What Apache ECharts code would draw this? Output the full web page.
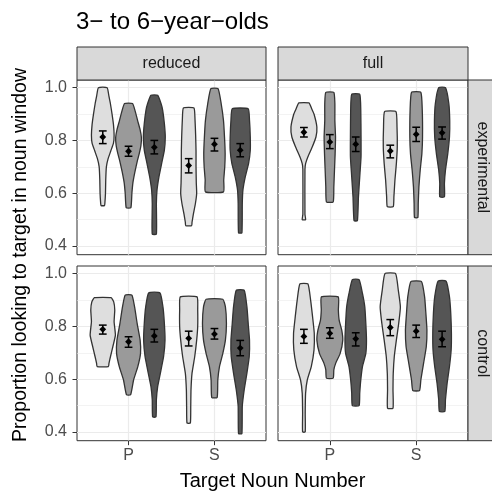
<!DOCTYPE html>
<html>
<head>
<meta charset="utf-8">
<script src="https://cdn.jsdelivr.net/npm/echarts@6/dist/echarts.min.js"></script>
<style>html,body{margin:0;padding:0;background:#fff}#c{width:492px;height:493px}</style>
</head>
<body>
<div id="c"></div>
<script>
// ---------- data ----------
const titleText = '3\u2212 to 6\u2212year\u2212olds';
const yTitle = 'Proportion looking to target in noun window';
const xTitle = 'Target Noun Number';
const columns = ['reduced', 'full'];
const rows = ['experimental', 'control'];
const nounNumbers = ['P', 'S'];
const yTicks = [0.4, 0.6, 0.8, 1.0];
const yMinorTicks = [0.5, 0.7, 0.9];
const fills = ['#dedede', '#9a9a9a', '#555555'];

// violin profiles: [value, relative half-width] from top to bottom; order P1,P2,P3,S1,S2,S3
const violinsReducedExperimental = [
  [[1.000,0.34],[0.97,0.47],[0.94,0.59],[0.90,0.72],[0.86,0.83],[0.82,0.88],[0.79,0.83],[0.76,0.62],[0.73,0.41],[0.70,0.28],[0.65,0.23],[0.60,0.21],[0.56,0.16],[0.553,0.13]],
  [[0.94,0.31],[0.91,0.52],[0.876,0.70],[0.84,0.90],[0.81,1.0],[0.78,0.96],[0.75,0.83],[0.72,0.67],[0.68,0.49],[0.64,0.34],[0.60,0.26],[0.545,0.18]],
  [[0.971,0.26],[0.94,0.52],[0.914,0.65],[0.864,0.78],[0.813,0.85],[0.763,0.78],[0.713,0.57],[0.662,0.36],[0.612,0.21],[0.561,0.16],[0.445,0.16]],
  [[0.923,0.41],[0.88,0.49],[0.82,0.54],[0.76,0.57],[0.70,0.57],[0.64,0.59],[0.60,0.62],[0.56,0.52],[0.52,0.36],[0.49,0.26],[0.477,0.23]],
  [[0.996,0.28],[0.94,0.52],[0.876,0.70],[0.813,0.78],[0.75,0.83],[0.70,0.80],[0.65,0.72],[0.605,0.70]],
  [[0.92,0.62],[0.876,0.72],[0.813,0.78],[0.763,0.78],[0.713,0.65],[0.662,0.39],[0.612,0.21],[0.561,0.16],[0.45,0.13]]
];
const violinsFullExperimental = [
  [[0.942,0.39],[0.92,0.6],[0.90,0.78],[0.851,1.0],[0.813,0.93],[0.776,0.65],[0.738,0.31],[0.712,0.13],[0.69,0.08],[0.52,0.08],[0.50,0.13]],
  [[0.982,0.31],[0.94,0.39],[0.876,0.39],[0.813,0.44],[0.75,0.41],[0.687,0.36],[0.624,0.31],[0.567,0.26]],
  [[0.975,0.31],[0.914,0.39],[0.813,0.41],[0.738,0.41],[0.662,0.31],[0.586,0.21],[0.496,0.13]],
  [[0.909,0.44],[0.851,0.52],[0.776,0.54],[0.712,0.47],[0.65,0.36],[0.586,0.28],[0.549,0.23]],
  [[0.982,0.36],[0.914,0.47],[0.813,0.49],[0.75,0.44],[0.687,0.31],[0.624,0.21],[0.561,0.16],[0.508,0.13]],
  [[1.0,0.26],[0.94,0.52],[0.876,0.59],[0.813,0.57],[0.75,0.44],[0.687,0.26],[0.637,0.18],[0.586,0.18]]
];
const violinsReducedControl = [
  [[0.909,0.65],[0.893,0.85],[0.862,0.93],[0.818,0.88],[0.767,0.98],[0.723,0.78],[0.686,0.6],[0.66,0.48],[0.648,0.44]],
  [[0.919,0.26],[0.874,0.47],[0.811,0.67],[0.748,0.90],[0.698,0.93],[0.648,0.72],[0.597,0.39],[0.541,0.16]],
  [[0.927,0.44],[0.874,0.67],[0.811,0.78],[0.748,0.83],[0.686,0.72],[0.623,0.47],[0.572,0.26],[0.522,0.16],[0.457,0.13]],
  [[0.912,0.65],[0.862,0.70],[0.799,0.70],[0.748,0.62],[0.686,0.47],[0.623,0.26],[0.56,0.18],[0.497,0.16],[0.434,0.13]],
  [[0.903,0.65],[0.874,0.85],[0.811,0.93],[0.748,0.85],[0.698,0.65],[0.648,0.39],[0.597,0.26],[0.531,0.21]],
  [[0.937,0.31],[0.874,0.52],[0.811,0.62],[0.748,0.72],[0.686,0.70],[0.623,0.52],[0.56,0.31],[0.497,0.16],[0.394,0.13]]
];
const violinsFullControl = [
  [[0.961,0.31],[0.899,0.52],[0.836,0.67],[0.774,0.80],[0.711,0.78],[0.648,0.57],[0.597,0.26],[0.547,0.13],[0.472,0.10],[0.40,0.10]],
  [[0.912,0.65],[0.862,0.66],[0.824,0.72],[0.786,0.92],[0.748,1.0],[0.698,0.8],[0.66,0.45],[0.635,0.31],[0.604,0.26]],
  [[0.977,0.26],[0.925,0.52],[0.874,0.70],[0.811,0.78],[0.748,0.83],[0.698,0.78],[0.648,0.52],[0.597,0.39],[0.547,0.31],[0.50,0.26]],
  [[1.0,0.41],[0.937,0.62],[0.874,0.78],[0.811,0.65],[0.748,0.47],[0.686,0.31],[0.623,0.23],[0.56,0.21],[0.49,0.21]],
  [[0.97,0.41],[0.912,0.65],[0.849,0.75],[0.786,0.83],[0.723,0.78],[0.66,0.57],[0.597,0.36],[0.557,0.26]],
  [[0.972,0.31],[0.912,0.57],[0.849,0.67],[0.774,0.72],[0.711,0.70],[0.648,0.57],[0.585,0.39],[0.522,0.26],[0.478,0.21]]
];

const meansReducedExperimental = [0.813, 0.759, 0.774, 0.705, 0.786, 0.763];
const lowerReducedExperimental = [0.788, 0.740, 0.749, 0.677, 0.760, 0.738];
const upperReducedExperimental = [0.836, 0.778, 0.800, 0.731, 0.808, 0.788];

const meansFullExperimental = [0.831, 0.794, 0.786, 0.760, 0.823, 0.829];
const lowerFullExperimental = [0.813, 0.769, 0.758, 0.734, 0.796, 0.805];
const upperFullExperimental = [0.849, 0.822, 0.813, 0.782, 0.850, 0.851];

const meansReducedControl = [0.789, 0.742, 0.764, 0.755, 0.771, 0.718];
const lowerReducedControl = [0.771, 0.721, 0.741, 0.726, 0.752, 0.689];
const upperReducedControl = [0.805, 0.761, 0.789, 0.782, 0.792, 0.747];

const meansFullControl = [0.762, 0.774, 0.753, 0.796, 0.782, 0.751];
const lowerFullControl = [0.736, 0.755, 0.726, 0.765, 0.758, 0.723];
const upperFullControl = [0.789, 0.795, 0.776, 0.826, 0.805, 0.782];

// ---------- build ----------
const panels = [
  {row: 0, col: 0, violins: violinsReducedExperimental, means: meansReducedExperimental, lower: lowerReducedExperimental, upper: upperReducedExperimental},
  {row: 0, col: 1, violins: violinsFullExperimental, means: meansFullExperimental, lower: lowerFullExperimental, upper: upperFullExperimental},
  {row: 1, col: 0, violins: violinsReducedControl, means: meansReducedControl, lower: lowerReducedControl, upper: upperReducedControl},
  {row: 1, col: 1, violins: violinsFullControl, means: meansFullControl, lower: lowerFullControl, upper: upperFullControl}
];

const FONT = 'Liberation Sans, Arial, Helvetica, sans-serif';
const gridLeft = [77, 278], gridWidth = [189, 190];
const gridTop = [80, 266], gridHeight = 174.7;
const yMin = 0.367, yMax = 1.029;
const dodge = 0.3, slotHalf = 0.15, capHalf = 0.045;

const grids = [], xAxes = [], yAxes = [], series = [];
panels.forEach((p, gi) => {
  grids.push({left: gridLeft[p.col], top: gridTop[p.row], width: gridWidth[p.col], height: gridHeight,
    show: true, backgroundColor: '#fff', borderColor: '#333', borderWidth: 1,
    containLabel: false, outerBoundsMode: 'none'});
  const bottom = p.row === 1, left = p.col === 0;
  xAxes.push({type: 'value', gridIndex: gi, min: 0.4, max: 2.6,
    axisLine: {show: false},
    axisTick: {show: bottom, customValues: [1, 2], length: 4.5, lineStyle: {color: '#333', width: 1}},
    axisLabel: {show: bottom, customValues: [1, 2], margin: 7, fontFamily: FONT, fontSize: 16, color: '#4d4d4d',
      formatter: v => nounNumbers[Math.round(v) - 1]},
    splitLine: {show: true, lineStyle: {color: '#ebebeb', width: 1.2}}});
  yAxes.push({type: 'value', gridIndex: gi, min: yMin, max: yMax,
    axisLine: {show: false},
    axisTick: {show: left, customValues: yTicks, length: 4.5, lineStyle: {color: '#333', width: 1}},
    axisLabel: {show: left, customValues: yTicks, margin: 10, fontFamily: FONT, fontSize: 16, color: '#4d4d4d',
      formatter: v => v.toFixed(1)},
    splitLine: {show: true, lineStyle: {color: '#ebebeb', width: 1.2}}});
  yAxes.push({type: 'value', gridIndex: gi, min: yMin, max: yMax,
    axisLine: {show: false},
    axisTick: {show: false, customValues: yMinorTicks},
    axisLabel: {show: false, customValues: yMinorTicks},
    splitLine: {show: true, lineStyle: {color: '#ebebeb', width: 0.6}}});

  const data = p.means.map((m, i) => {
    const cat = Math.floor(i / 3), grp = i % 3;
    return [cat + 1 + (grp - 1) * dodge, m, p.lower[i], p.upper[i], i];
  });
  series.push({
    type: 'custom', xAxisIndex: gi, yAxisIndex: gi * 2, data: data, silent: true,
    renderItem: (params, api) => {
      const idx = api.value(4);
      const xc = api.value(0);
      const prof = p.violins[idx];
      const right = prof.map(d => api.coord([xc + d[1] * slotHalf, d[0]]));
      const leftPts = prof.slice().reverse().map(d => api.coord([xc - d[1] * slotHalf, d[0]]));
      const m = api.coord([xc, api.value(1)]);
      const lo = api.coord([xc, api.value(2)]);
      const hi = api.coord([xc, api.value(3)]);
      const capL = api.coord([xc - capHalf, api.value(2)]);
      const capR = api.coord([xc + capHalf, api.value(2)]);
      const capL2 = api.coord([xc - capHalf, api.value(3)]);
      const capR2 = api.coord([xc + capHalf, api.value(3)]);
      const ds = 3.4;
      return {type: 'group', children: [
        {type: 'polygon', shape: {points: right.concat(leftPts), smooth: 0.15},
          style: {fill: fills[idx % 3], stroke: '#333', lineWidth: 1.3, lineJoin: 'round'}},
        {type: 'line', shape: {x1: lo[0], y1: lo[1], x2: hi[0], y2: hi[1]}, style: {stroke: '#000', lineWidth: 1.5}},
        {type: 'line', shape: {x1: capL[0], y1: capL[1], x2: capR[0], y2: capR[1]}, style: {stroke: '#000', lineWidth: 1.5}},
        {type: 'line', shape: {x1: capL2[0], y1: capL2[1], x2: capR2[0], y2: capR2[1]}, style: {stroke: '#000', lineWidth: 1.5}},
        {type: 'polygon', shape: {points: [[m[0], m[1] - ds], [m[0] + ds, m[1]], [m[0], m[1] + ds], [m[0] - ds, m[1]]]},
          style: {fill: '#000'}}
      ]};
    }
  });
});

const graphics = [];
// top strips
columns.forEach((c, ci) => {
  graphics.push({type: 'rect', shape: {x: gridLeft[ci], y: 47, width: gridWidth[ci], height: 33},
    style: {fill: '#d9d9d9', stroke: '#333', lineWidth: 1}, z: 10});
  graphics.push({type: 'text', x: gridLeft[ci] + gridWidth[ci] / 2, y: 63.5,
    style: {text: c, fontFamily: FONT, fontSize: 16, fill: '#1a1a1a', align: 'center', verticalAlign: 'middle'}, z: 11});
});
// right strips
rows.forEach((r, ri) => {
  graphics.push({type: 'rect', shape: {x: 468, y: gridTop[ri], width: 34, height: gridHeight},
    style: {fill: '#d9d9d9', stroke: '#333', lineWidth: 1}, z: 10});
  graphics.push({type: 'text', x: 482, y: gridTop[ri] + gridHeight / 2, rotation: -Math.PI / 2,
    style: {text: r, fontFamily: FONT, fontSize: 16, fill: '#1a1a1a', align: 'center', verticalAlign: 'middle'}, z: 11});
});
graphics.push({type: 'text', x: 76, y: 22,
  style: {text: titleText, fontFamily: FONT, fontSize: 24, fill: '#000', align: 'left', verticalAlign: 'middle'}});
graphics.push({type: 'text', x: 21, y: 255, rotation: Math.PI / 2,
  style: {text: yTitle, fontFamily: FONT, fontSize: 19.5, fill: '#000', align: 'center', verticalAlign: 'middle'}});
graphics.push({type: 'text', x: 272.5, y: 481,
  style: {text: xTitle, fontFamily: FONT, fontSize: 20, fill: '#000', align: 'center', verticalAlign: 'middle'}});

const chart = echarts.init(document.getElementById('c'), null, {renderer: 'canvas'});
chart.setOption({
  backgroundColor: '#fff',
  animation: false,
  grid: grids,
  xAxis: xAxes,
  yAxis: yAxes,
  series: series,
  graphic: graphics
});
</script>
</body>
</html>
